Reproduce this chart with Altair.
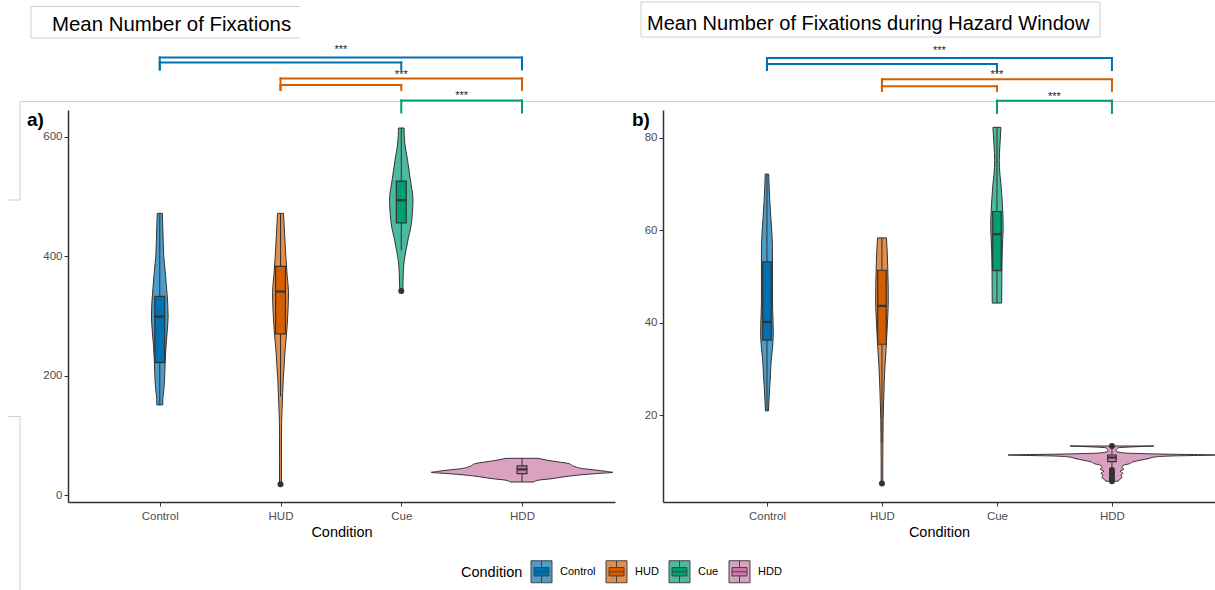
import altair as alt
import pandas as pd

# ---------------------------------------------------------------- data
conditions = ["Control", "HUD", "Cue", "HDD"]
box_colors = ["#0072B2", "#D55E00", "#009E73", "#CC79A7"]
violin_colors = ["#4D9CC9", "#E28E4C", "#4CBB9D", "#DBA1C1"]

# a) Mean Number of Fixations -- violin outlines (value, half-width in category widths)
fix_control_y = [151, 160, 175, 200, 225, 250, 275, 300, 320, 350, 375, 400, 420, 450, 472]
fix_control_w = [0.025, 0.025, 0.033, 0.041, 0.045, 0.052, 0.062, 0.069, 0.066, 0.055, 0.045, 0.033, 0.029, 0.025, 0.021]
fix_hud_y = [18, 60, 100, 140, 170, 195, 220, 240, 270, 310, 340, 370, 400, 440, 472]
fix_hud_w = [0.008, 0.008, 0.008, 0.012, 0.018, 0.023, 0.031, 0.037, 0.050, 0.062, 0.066, 0.054, 0.044, 0.033, 0.025]
fix_cue_y = [342, 360, 382, 395, 410, 430, 449, 470, 494, 530, 561, 590, 615]
fix_cue_w = [0.012, 0.015, 0.019, 0.026, 0.039, 0.058, 0.079, 0.091, 0.097, 0.074, 0.052, 0.029, 0.023]
fix_hdd_y = [21.8, 25, 27, 30.7, 33.5, 36, 38, 39.5, 42, 44, 47.5, 53, 57, 61.5]
fix_hdd_w = [0.099, 0.140, 0.231, 0.355, 0.471, 0.620, 0.752, 0.702, 0.603, 0.512, 0.438, 0.380, 0.248, 0.132]

# a) box statistics, in condition order
fix_low = [151, 165, 410, 22]
fix_q1 = [222, 270, 456, 36]
fix_median = [299, 341, 494, 43]
fix_q3 = [333, 383, 526, 49]
fix_high = [472, 472, 615, 61.5]
fix_outlier_cond = ["HUD", "Cue"]
fix_outlier_val = [18, 342]

# b) Mean Number of Fixations during Hazard Window -- violin outlines
haz_control_y = [20.9, 23, 26.1, 28.5, 31.9, 34.5, 37.7, 41, 44.9, 48, 52, 55, 59.3, 63, 66.5, 72.1]
haz_control_w = [0.013, 0.017, 0.024, 0.030, 0.037, 0.048, 0.055, 0.052, 0.048, 0.048, 0.048, 0.048, 0.043, 0.033, 0.024, 0.015]
haz_hud_y = [5.2, 10, 16, 19, 23.2, 27, 30.5, 34, 37.7, 41, 45, 48, 52, 55, 58.3]
haz_hud_w = [0.007, 0.007, 0.009, 0.010, 0.015, 0.020, 0.026, 0.035, 0.043, 0.050, 0.055, 0.054, 0.050, 0.046, 0.039]
haz_cue_y = [44.2, 47.5, 51.4, 55.7, 58, 60.7, 64.3, 66.5, 69.4, 72, 75.1, 78.5, 82.2]
haz_cue_w = [0.041, 0.042, 0.043, 0.046, 0.050, 0.054, 0.050, 0.045, 0.037, 0.026, 0.020, 0.026, 0.035]
haz_hdd_y = [5.7, 6.1, 6.5, 7.0, 7.4, 7.9, 8.3, 8.7, 9.1, 9.5, 9.8, 10.2, 10.6, 10.9, 11.15, 11.35,
             11.55, 11.8, 12.2, 12.9, 13.1, 13.3]
haz_hdd_w = [0.052, 0.070, 0.087, 0.078, 0.096, 0.070, 0.104, 0.087, 0.096, 0.157, 0.174, 0.243, 0.322,
             0.365, 0.522, 0.904, 0.435, 0.104, 0.035, 0.052, 0.174, 0.365]

# b) box statistics
haz_low = [20.9, 14, 44.2, 8.6]
haz_q1 = [36.2, 35.3, 51.2, 9.9]
haz_median = [40.1, 43.6, 59.1, 10.8]
haz_q3 = [53.1, 51.3, 64, 11.35]
haz_high = [72.1, 58.3, 82.2, 12.9]
haz_outlier_cond = ["HUD", "HDD", "HDD", "HDD", "HDD", "HDD", "HDD"]
haz_outlier_val = [5.2, 13.3, 5.7, 6.3, 6.9, 7.5, 8.1]

# significance brackets (pairwise comparisons), drawn in each panel's own units
bracket_from = ["Control", "Control", "HUD", "HUD", "Cue"]
bracket_to = ["HDD", "Cue", "HDD", "Cue", "HDD"]
fix_bracket_top = [733.2, 724.8, 698.0, 687.1, 661.1]
fix_bracket_end = [713.1, 713.1, 678.7, 678.7, 641.0]
haz_bracket_top = [97.2, 95.9, 92.6, 91.1, 87.97]
haz_bracket_end = [94.6, 94.6, 90.1, 90.1, 85.3]
star_from = ["Control", "HUD", "Cue"]
star_to = ["HDD", "HDD", "HDD"]
fix_star_y = [745, 704, 668]
haz_star_y = [98.7, 93.5, 88.8]

# ---------------------------------------------------------------- styling
FONT = "Liberation Sans"
LABEL_FONT = "Liberation Sans Narrow, Liberation Sans, Arial Narrow, sans-serif"
INK = "#333333"
FRAME = "#CFCFCF"
W, H = 1215, 590
pos = {c: i + 1 for i, c in enumerate(conditions)}

label_expr = " : ".join(
    f"datum.value == {i + 1} ? '{c}'" for i, c in enumerate(conditions[:-1])
) + f" : '{conditions[-1]}'"


def lin(domain, rng):
    return alt.Scale(domain=domain, range=rng, nice=False, zero=False)


def x_axis():
    return alt.Axis(orient="bottom", offset=502 - H, values=[1, 2, 3, 4], labelExpr=label_expr,
                    title="Condition", titleFont=FONT, titleFontSize=14.5, titleFontWeight="normal",
                    titleColor="black", titlePadding=4, labelFont=FONT, labelFontSize=11.5,
                    labelColor="#4D4D4D", labelPadding=4, tickSize=4, tickColor=INK,
                    domainColor=INK, domainWidth=1.5, grid=False)


def y_axis(at, ticks):
    return alt.Axis(orient="left", offset=-at, values=ticks, title=None, labelFont=FONT,
                    labelFontSize=11.5, labelColor="#4D4D4D", labelPadding=2, tickSize=4,
                    tickColor=INK, domainColor=INK, domainWidth=1.5, grid=False)


# Two legends share one spot: the light violin key and, on top, the box glyph.
# Both symbol paths span the same bounds so the entries line up exactly.
legend_common = dict(
    title="Condition", orient="none", legendX=461, legendY=561, direction="horizontal",
    titleOrient="left", titleFont=FONT, titleFontSize=14.5, titleFontWeight="normal",
    titleColor="black", titlePadding=8, titleBaseline="middle",
    labelFont=FONT, labelFontSize=11, labelColor="black", labelOffset=8, columnPadding=8,
    symbolSize=400, symbolStrokeColor="#444444", symbolStrokeWidth=1, symbolOpacity=1,
)
legend_violin = alt.Legend(symbolType="M-1.05,-1.1H1.05V1.1H-1.05Z", **legend_common)
legend_box = alt.Legend(
    symbolType="M-1.05,-1.1M1.05,1.1M-0.75,-0.42H0.75V0.42H-0.75Z M-0.75,0H0.75 M0,-1.1V-0.42 M0,0.42V1.1",
    labelOpacity=0, titleOpacity=0, **legend_common)


def panel(cfg, vy, vw, low, q1, med, q3, high, oc, ov, btop, bend, sy, with_legend):
    xs = lin(cfg["xdom"], cfg["xrng"])
    ys = lin(cfg["ydom"], cfg["yrng"])
    half = cfg["box_half"]

    vrows = []
    for c, yl, wl in zip(conditions, vy, vw):
        for y, w in zip(yl, wl):
            vrows.append({"Condition": c, "y": y, "lo": pos[c] - w, "hi": pos[c] + w})
    violins = alt.Chart(pd.DataFrame(vrows)).mark_area(
        orient="horizontal", interpolate="monotone", stroke=INK, strokeWidth=1, opacity=1
    ).encode(
        x=alt.X("lo:Q", scale=xs, axis=x_axis(), stack=None),
        x2="hi:Q",
        y=alt.Y("y:Q", scale=ys, axis=y_axis(cfg["yaxis_at"], cfg["yticks"])),
        fill=alt.Fill("Condition:N", scale=alt.Scale(domain=conditions, range=violin_colors),
                      legend=legend_violin if with_legend else None),
        detail="Condition:N",
    )

    stats = pd.DataFrame({"Condition": conditions, "low": low, "q1": q1, "med": med,
                          "q3": q3, "high": high})
    stats["pos"] = stats["Condition"].map(pos)
    stats["bx1"] = stats["pos"] - half
    stats["bx2"] = stats["pos"] + half

    whisk = pd.concat([
        stats[["pos", "low", "q1"]].rename(columns={"low": "y1", "q1": "y2"}),
        stats[["pos", "q3", "high"]].rename(columns={"q3": "y1", "high": "y2"}),
    ])
    whiskers = alt.Chart(whisk).mark_rule(color=INK, strokeWidth=1).encode(
        x=alt.X("pos:Q", scale=xs, axis=None),
        y=alt.Y("y1:Q", scale=ys, axis=None),
        y2="y2:Q",
    )
    boxes = alt.Chart(stats).mark_rect(stroke=INK, strokeWidth=1.2).encode(
        x=alt.X("bx1:Q", scale=xs, axis=None),
        x2="bx2:Q",
        y=alt.Y("q1:Q", scale=ys, axis=None),
        y2="q3:Q",
        fill=alt.Fill("Condition:N", scale=alt.Scale(domain=conditions, range=box_colors),
                      legend=legend_box if with_legend else None),
    )
    medians = alt.Chart(stats).mark_rule(color=INK, strokeWidth=2.2).encode(
        x=alt.X("bx1:Q", scale=xs, axis=None),
        x2="bx2:Q",
        y=alt.Y("med:Q", scale=ys, axis=None),
    )
    outl = pd.DataFrame({"Condition": oc, "val": ov})
    outl["pos"] = outl["Condition"].map(pos)
    outliers = alt.Chart(outl).mark_circle(color=INK, opacity=1, size=36).encode(
        x=alt.X("pos:Q", scale=xs, axis=None),
        y=alt.Y("val:Q", scale=ys, axis=None),
    )

    segs = []
    for f, t, top, end in zip(bracket_from, bracket_to, btop, bend):
        a, b = pos[f], pos[t]
        segs += [
            {"group": f, "sx1": a, "sx2": b, "sy1": top, "sy2": top},
            {"group": f, "sx1": a, "sx2": a, "sy1": top, "sy2": end},
            {"group": f, "sx1": b, "sx2": b, "sy1": top, "sy2": end},
        ]
    brackets = alt.Chart(pd.DataFrame(segs)).mark_rule(strokeWidth=2, strokeCap="square").encode(
        x=alt.X("sx1:Q", scale=xs, axis=None),
        x2="sx2:Q",
        y=alt.Y("sy1:Q", scale=ys, axis=None),
        y2="sy2:Q",
        color=alt.Color("group:N", scale=alt.Scale(domain=conditions, range=box_colors), legend=None),
    )
    stars_df = pd.DataFrame({
        "mid": [(pos[f] + pos[t]) / 2 for f, t in zip(star_from, star_to)],
        "y": sy,
        "label": ["***"] * len(sy),
    })
    stars = alt.Chart(stars_df).mark_text(font=FONT, fontSize=11, color="#222222",
                                          baseline="middle").encode(
        x=alt.X("mid:Q", scale=xs, axis=None),
        y=alt.Y("y:Q", scale=ys, axis=None),
        text="label:N",
    )
    return [violins, whiskers, boxes, medians, outliers, brackets, stars]


panel_a = dict(xdom=[0.24, 4.77], xrng=[68, 615], ydom=[-11.7, 645.2], yrng=[502, 110],
               yticks=[0, 200, 400, 600], yaxis_at=68, box_half=0.041)
panel_b = dict(xdom=[0.096, 4.896], xrng=[663, 1215], ydom=[1.19, 85.95], yrng=[502, 110],
               yticks=[20, 40, 60, 80], yaxis_at=663, box_half=0.037)

layers_a = panel(panel_a,
                 [fix_control_y, fix_hud_y, fix_cue_y, fix_hdd_y],
                 [fix_control_w, fix_hud_w, fix_cue_w, fix_hdd_w],
                 fix_low, fix_q1, fix_median, fix_q3, fix_high,
                 fix_outlier_cond, fix_outlier_val, fix_bracket_top, fix_bracket_end, fix_star_y, True)
layers_b = panel(panel_b,
                 [haz_control_y, haz_hud_y, haz_cue_y, haz_hdd_y],
                 [haz_control_w, haz_hud_w, haz_cue_w, haz_hdd_w],
                 haz_low, haz_q1, haz_median, haz_q3, haz_high,
                 haz_outlier_cond, haz_outlier_val, haz_bracket_top, haz_bracket_end, haz_star_y, False)

# ---------------------------------------------------------------- frame and headings
one = pd.DataFrame({"k": [0]})


def frame_line(x1, y1, x2, y2):
    return alt.Chart(one).mark_rule(color=FRAME, strokeWidth=1).encode(
        x=alt.value(x1), x2=alt.value(x2), y=alt.value(y1), y2=alt.value(y2))


def heading(text, x, y, size, weight="normal", font=FONT):
    return alt.Chart(one).mark_text(text=text, font=font, fontSize=size, fontWeight=weight,
                                    color="black", align="left", baseline="alphabetic").encode(
        x=alt.value(x), y=alt.value(y))


frame = [
    frame_line(20, 101.5, W, 101.5),
    frame_line(20, 101.5, 20, 200),
    frame_line(8, 200, 20, 200),
    frame_line(8, 416.5, 20, 416.5),
    frame_line(20, 416.5, 20, H),
    # heading boxes
    frame_line(31, 6.5, 300, 6.5),
    frame_line(31, 38, 300, 38),
    frame_line(31, 6.5, 31, 38),
    frame_line(641, 2, 1100, 2),
    frame_line(641, 37, 1100, 37),
    frame_line(641, 2, 641, 37),
    frame_line(1100, 2, 1100, 37),
]
headings = [
    heading("Mean Number of Fixations", 52, 31, 20.4),
    heading("Mean Number of Fixations during Hazard Window", 647, 30, 20),
    heading("a)", 27, 126, 19, "bold", LABEL_FONT),
    heading("b)", 632, 126, 19, "bold", LABEL_FONT),
]

chart = alt.layer(*frame, *layers_a, *layers_b, *headings).resolve_scale(
    x="independent", y="independent", fill="independent", color="independent"
).resolve_axis(
    x="independent", y="independent"
).resolve_legend(
    fill="independent", color="independent"
).properties(
    width=W, height=H, autosize=alt.AutoSizeParams(type="none"), padding=0, background="white"
).configure_view(stroke=None)

chart.save("out.html", embed_options={"renderer": "svg", "actions": False})
